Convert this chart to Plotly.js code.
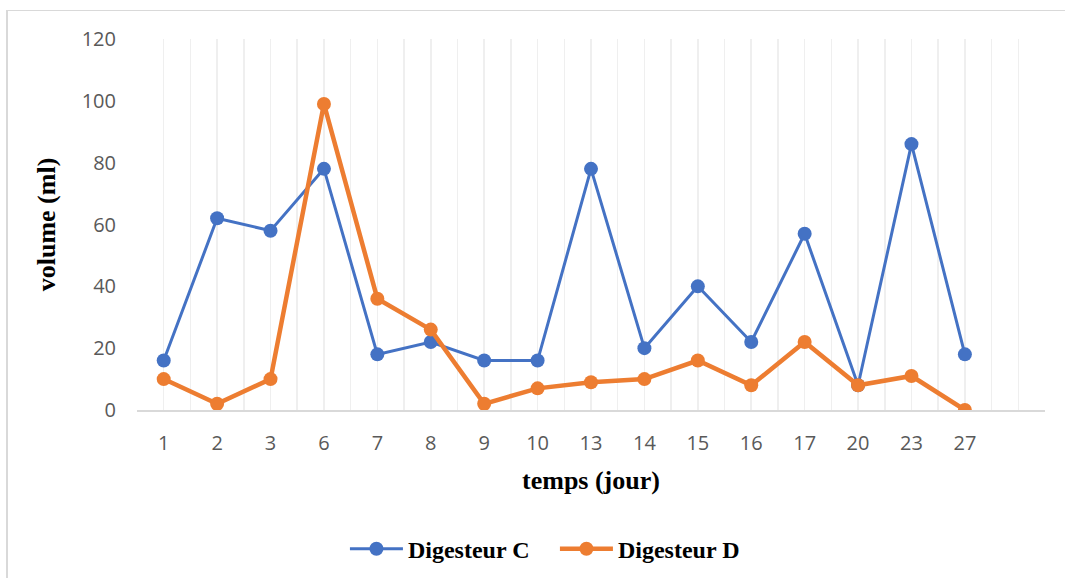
<!DOCTYPE html>
<html>
<head>
<meta charset="utf-8">
<script src="https://cdn.plot.ly/plotly-3.0.1.min.js"></script>
<style>
  html, body { margin: 0; padding: 0; background: #ffffff; }
  #chart { width: 1065px; height: 578px; position: relative; }
  #frame { position: absolute; left: 6px; top: 10px; width: 1100px; height: 600px;
           border-left: 2px solid #d9d9d9; border-top: 1px solid #d9d9d9;
           pointer-events: none; }
</style>
</head>
<body>
<div id="chart"></div>
<div id="frame"></div>
<script>
// Sampling days (x axis categories)
const days = ['1', '2', '3', '6', '7', '8', '9', '10', '13', '14', '15', '16', '17', '20', '23', '27'];

// Daily biogas volume (ml)
const digesteurC = [16, 62, 58, 78, 18, 22, 16, 16, 78, 20, 40, 22, 57, 8, 86, 18];
const digesteurD = [10, 2, 10, 99, 36, 26, 2, 7, 9, 10, 16, 8, 22, 8, 11, 0];

const yTicks = [0, 20, 40, 60, 80, 100, 120];

const idx = days.map((_, i) => i);

const traces = [
  {
    x: idx, y: digesteurC, name: 'Digesteur C', type: 'scatter', mode: 'lines+markers',
    line: { color: '#4472c4', width: 3 },
    marker: { color: '#4472c4', size: 14 }
  },
  {
    x: idx, y: digesteurD, name: 'Digesteur D', type: 'scatter', mode: 'lines+markers',
    line: { color: '#ed7d31', width: 4.5 },
    marker: { color: '#ed7d31', size: 14 }
  }
];

const serif = 'Liberation Serif, Times New Roman, serif';
const sans = 'Open Sans, Liberation Sans, sans-serif';

const layout = {
  width: 1065, height: 578,
  paper_bgcolor: '#ffffff', plot_bgcolor: '#ffffff',
  margin: { l: 137, r: 20, t: 39, b: 168, autoexpand: false },
  showlegend: true,
  legend: {
    orientation: 'h', x: 0.229, xanchor: 'left', y: -0.375, yanchor: 'middle',
    font: { family: serif, size: 24, color: '#000000', weight: 'bold' },
    entrywidth: 142, entrywidthmode: 'pixels', itemwidth: 53,
    tracegroupgap: 0
  },
  xaxis: {
    type: 'linear', range: [-0.5, 16.5], automargin: false,
    tickmode: 'array', tickvals: idx, ticktext: days,
    showgrid: false, zeroline: false,
    showline: true, linecolor: '#d9d9d9', linewidth: 1.5,
    ticks: '', ticklen: 0, ticklabelstandoff: 14,
    tickfont: { family: sans, size: 20, color: '#595959' },
    minor: { tick0: -0.5, dtick: 0.5, showgrid: true, gridcolor: '#efefef', gridwidth: 1.5, ticks: '' },
    title: {
      text: '<b>temps (jour)</b>', standoff: 16,
      font: { family: serif, size: 26, color: '#000000' }
    },
    fixedrange: true
  },
  yaxis: {
    range: [0, 120], tickmode: 'array', tickvals: yTicks, automargin: false,
    showgrid: false, zeroline: false, showline: false,
    ticks: '', ticklabelstandoff: 20,
    tickfont: { family: sans, size: 20, color: '#595959' },
    title: {
      text: '<b>volume (ml)</b>', standoff: 18,
      font: { family: serif, size: 26, color: '#000000' }
    },
    fixedrange: true
  }
};

Plotly.newPlot('chart', traces, layout, { displayModeBar: false, staticPlot: true });
</script>
</body>
</html>
